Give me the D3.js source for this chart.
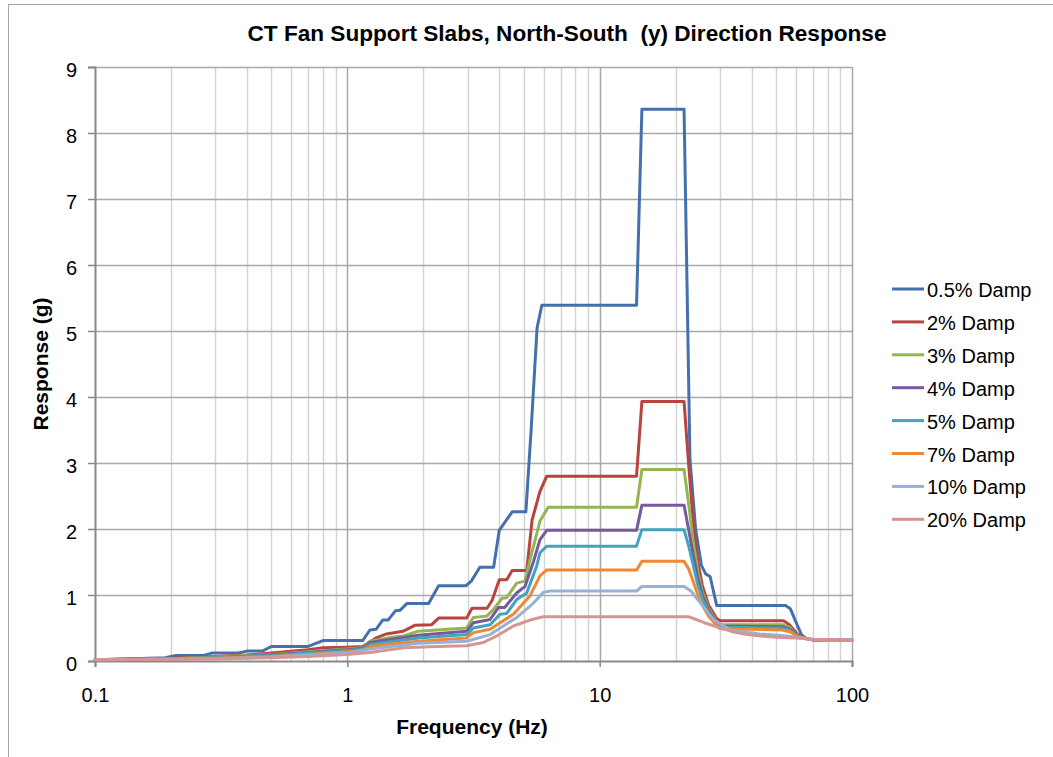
<!DOCTYPE html>
<html>
<head>
<meta charset="utf-8">
<script src="https://cdn.jsdelivr.net/npm/d3@7"></script>
<style>
  body { margin: 0; background: #fff; }
  svg text { font-family: "Liberation Sans", Arial, sans-serif; fill: #000; }
</style>
</head>
<body>
<div id="chart"></div>
<script>
// chart data
let seriesNames = ["0.5% Damp", "2% Damp", "3% Damp", "4% Damp", "5% Damp", "7% Damp", "10% Damp", "20% Damp"]
let seriesColors = ["#4471ad", "#b8433f", "#93b552", "#77599d", "#43a3bf", "#f08735", "#96b1d6", "#d69593"]

// [frequency Hz, response g]
let damp05 = [[0.1,0.02],[0.13,0.03],[0.19,0.05],[0.2,0.07],[0.21,0.085],[0.27,0.085],[0.29,0.12],[0.37,0.12],[0.4,0.15],[0.46,0.15],[0.5,0.22],[0.7,0.22],[0.8,0.31],[1.15,0.31],[1.23,0.47],[1.3,0.48],[1.38,0.62],[1.45,0.62],[1.55,0.76],[1.62,0.77],[1.72,0.87],[2.1,0.87],[2.3,1.14],[2.95,1.14],[3.1,1.21],[3.35,1.42],[3.8,1.42],[4.0,1.98],[4.5,2.26],[5.1,2.26],[5.35,3.5],[5.65,5.05],[5.9,5.39],[14.0,5.39],[14.7,8.36],[21.6,8.36],[22.8,3.05],[24.0,2.0],[25.3,1.45],[26.3,1.32],[27.4,1.28],[29.1,0.84],[54.5,0.84],[57,0.79],[59.5,0.62],[63,0.4],[66,0.34],[70,0.32],[100,0.32]]
let damp2 = [[0.1,0.02],[0.2,0.04],[0.3,0.07],[0.4,0.09],[0.5,0.12],[0.7,0.17],[0.8,0.2],[1.0,0.21],[1.15,0.22],[1.3,0.35],[1.43,0.41],[1.66,0.45],[1.85,0.54],[2.16,0.55],[2.3,0.65],[2.97,0.65],[3.12,0.8],[3.58,0.8],[3.75,0.92],[4.0,1.23],[4.28,1.23],[4.5,1.37],[5.14,1.37],[5.4,2.14],[5.8,2.57],[6.17,2.8],[14.0,2.8],[14.7,3.93],[21.6,3.93],[22.5,3.0],[23.5,2.1],[24.5,1.5],[25.5,1.15],[27,0.85],[29,0.65],[30,0.61],[53.5,0.61],[56.5,0.55],[61,0.4],[66,0.34],[70,0.32],[100,0.32]]
let damp3 = [[0.1,0.02],[0.2,0.035],[0.3,0.06],[0.5,0.1],[0.7,0.14],[1.0,0.18],[1.15,0.2],[1.23,0.3],[1.5,0.36],[1.67,0.38],[1.91,0.45],[2.97,0.5],[3.16,0.66],[3.57,0.68],[3.79,0.78],[4.1,0.95],[4.28,0.96],[4.69,1.18],[5.06,1.21],[5.3,1.54],[5.8,2.12],[6.25,2.33],[14.0,2.33],[14.7,2.9],[21.6,2.9],[22.5,2.4],[23.5,1.8],[24.5,1.35],[25.5,1.05],[27,0.8],[29,0.6],[30,0.55],[53,0.55],[57,0.5],[61,0.38],[66,0.34],[70,0.32],[100,0.32]]
let damp4 = [[0.1,0.02],[0.2,0.03],[0.3,0.05],[0.5,0.09],[0.7,0.13],[1.0,0.17],[1.15,0.19],[1.23,0.28],[1.91,0.39],[2.97,0.45],[3.16,0.58],[3.68,0.63],[3.97,0.81],[4.2,0.81],[4.69,1.03],[5.06,1.13],[5.46,1.5],[5.8,1.84],[6.17,1.98],[14.0,1.98],[14.7,2.36],[21.6,2.36],[22.5,2.0],[23.5,1.6],[24.5,1.25],[25.5,1.0],[27,0.77],[29,0.58],[30,0.53],[53,0.52],[57,0.48],[61,0.38],[66,0.34],[70,0.32],[100,0.32]]
let damp5 = [[0.1,0.02],[0.2,0.03],[0.3,0.05],[0.5,0.08],[0.7,0.12],[1.0,0.16],[1.15,0.18],[1.23,0.25],[1.91,0.35],[2.97,0.4],[3.16,0.5],[3.68,0.55],[4.03,0.71],[4.28,0.72],[4.69,0.93],[5.14,1.03],[5.63,1.44],[5.8,1.64],[6.17,1.74],[14.0,1.74],[14.7,1.99],[21.6,1.99],[22.5,1.75],[23.5,1.45],[24.5,1.15],[25.5,0.95],[27,0.73],[29,0.56],[30,0.51],[53,0.5],[57,0.46],[61,0.37],[66,0.34],[70,0.32],[100,0.32]]
let damp7 = [[0.1,0.02],[0.2,0.03],[0.3,0.04],[0.5,0.07],[0.7,0.1],[1.0,0.14],[1.15,0.16],[1.23,0.22],[1.91,0.3],[2.97,0.35],[3.16,0.43],[3.68,0.48],[4.15,0.61],[4.55,0.71],[5.3,0.99],[5.8,1.29],[6.17,1.38],[14.0,1.38],[14.7,1.51],[21.6,1.51],[22.5,1.4],[23.5,1.2],[24.5,1.0],[25.5,0.85],[27,0.68],[29,0.54],[30,0.49],[53,0.47],[57,0.44],[61,0.37],[66,0.34],[70,0.32],[100,0.32]]
let damp10 = [[0.1,0.02],[0.2,0.025],[0.3,0.035],[0.5,0.06],[0.7,0.09],[1.0,0.12],[1.23,0.18],[1.91,0.27],[2.97,0.3],[3.68,0.4],[4.15,0.53],[4.69,0.66],[5.3,0.83],[5.63,0.93],[5.98,1.04],[6.36,1.06],[14.0,1.06],[14.7,1.13],[21.6,1.13],[23,1.06],[25.2,0.87],[28.4,0.62],[33,0.47],[43,0.41],[55,0.38],[65,0.34],[75,0.32],[100,0.32]]
let damp20 = [[0.1,0.02],[0.2,0.025],[0.3,0.03],[0.5,0.05],[0.7,0.07],[1.0,0.1],[1.23,0.13],[1.67,0.2],[2.26,0.22],[2.97,0.23],[3.46,0.28],[3.91,0.38],[4.55,0.53],[5.3,0.62],[5.98,0.67],[22.6,0.67],[23.7,0.64],[26,0.58],[30.2,0.5],[34,0.44],[38.4,0.4],[50,0.36],[60,0.35],[70,0.33],[100,0.32]]

let allSeries = [damp05, damp2, damp3, damp4, damp5, damp7, damp10, damp20]

let yTicks = [0, 1, 2, 3, 4, 5, 6, 7, 8, 9]
let xTicks = [0.1, 1, 10, 100]

// Step 1: set up the svg
let svgWidth = 1053
let svgHeight = 757
let margin = { top: 67, right: 201, bottom: 96, left: 95 }
let width = svgWidth - margin.left - margin.right
let height = svgHeight - margin.top - margin.bottom

let svg = d3.select("#chart")
    .append("svg")
    .attr("width", svgWidth)
    .attr("height", svgHeight)

// chart border (only left and top edges show in the frame)
svg.append("rect")
    .attr("x", 8.5)
    .attr("y", 4.5)
    .attr("width", 1200)
    .attr("height", 900)
    .attr("fill", "none")
    .attr("stroke", "#a6a6a6")
    .attr("stroke-width", 1)

let chartGroup = svg.append("g")
    .attr("transform", `translate(${margin.left}, ${margin.top})`)

// Step 2: scales
let xLogScale = d3.scaleLog()
    .domain([0.1, 100])
    .range([0, width])

let yLinearScale = d3.scaleLinear()
    .domain([0, 9])
    .range([height, 0])

// Step 3: grid lines
let minorTicks = xLogScale.ticks().filter(d => xTicks.indexOf(d) < 0)

chartGroup.append("g")
    .selectAll("line")
    .data(minorTicks)
    .enter()
    .append("line")
    .attr("x1", d => Math.round(xLogScale(d)) + 0.5)
    .attr("x2", d => Math.round(xLogScale(d)) + 0.5)
    .attr("y1", 0)
    .attr("y2", height)
    .attr("stroke", "#d4d4d4")
    .attr("stroke-width", 1.5)

chartGroup.append("g")
    .selectAll("line")
    .data(xTicks.slice(1))
    .enter()
    .append("line")
    .attr("x1", d => Math.round(xLogScale(d)) + 0.5)
    .attr("x2", d => Math.round(xLogScale(d)) + 0.5)
    .attr("y1", 0)
    .attr("y2", height)
    .attr("stroke", "#a8a8a8")
    .attr("stroke-width", 1.5)

chartGroup.append("g")
    .selectAll("line")
    .data(yTicks.slice(1))
    .enter()
    .append("line")
    .attr("x1", 0)
    .attr("x2", width)
    .attr("y1", d => Math.round(yLinearScale(d)) + 0.5)
    .attr("y2", d => Math.round(yLinearScale(d)) + 0.5)
    .attr("stroke", "#a8a8a8")
    .attr("stroke-width", 1.5)

// Step 4: axes
let leftAxis = d3.axisLeft(yLinearScale)
    .tickValues(yTicks)
    .tickSize(7)
    .tickPadding(11)
    .tickFormat(d3.format("d"))

let bottomAxis = d3.axisBottom(xLogScale)
    .tickValues(xTicks)
    .tickSize(6)
    .tickPadding(21)
    .tickFormat(d => d3.format("~g")(d))

let yAxisG = chartGroup.append("g")
    .call(leftAxis)

let xAxisG = chartGroup.append("g")
    .attr("transform", `translate(0, ${height})`)
    .call(bottomAxis)

;[yAxisG, xAxisG].forEach(g => {
    g.select(".domain").attr("stroke", "#888").attr("stroke-width", 2)
    g.selectAll(".tick line").attr("stroke", "#888").attr("stroke-width", 1.5)
    g.selectAll("text")
        .style("font-family", "'Liberation Sans', Arial, sans-serif")
        .style("font-size", "20px")
        .attr("fill", "#000")
})
yAxisG.selectAll("text").attr("dy", "0.45em")

// Step 5: the lines
let line = d3.line()
    .x(d => xLogScale(d[0]))
    .y(d => yLinearScale(d[1]))

chartGroup.append("g")
    .selectAll("path")
    .data(allSeries)
    .enter()
    .append("path")
    .attr("d", d => line(d))
    .attr("fill", "none")
    .attr("stroke", (d, i) => seriesColors[i])
    .attr("stroke-width", 3)
    .attr("stroke-linejoin", "round")
    .attr("stroke-linecap", "round")

// Step 6: titles
svg.append("text")
    .attr("x", 567)
    .attr("y", 41)
    .attr("text-anchor", "middle")
    .style("font-size", "22.6px")
    .style("font-weight", "bold")
    .style("white-space", "pre")
    .text("CT Fan Support Slabs, North-South  (y) Direction Response")

svg.append("text")
    .attr("x", 472)
    .attr("y", 734)
    .attr("text-anchor", "middle")
    .style("font-size", "21px")
    .style("font-weight", "bold")
    .text("Frequency (Hz)")

svg.append("text")
    .attr("transform", "translate(48, 364) rotate(-90)")
    .attr("text-anchor", "middle")
    .style("font-size", "21px")
    .style("font-weight", "bold")
    .text("Response (g)")

// Step 7: legend
let legend = svg.append("g")
    .attr("transform", "translate(892, 289)")

let legendRows = legend.selectAll("g")
    .data(seriesNames)
    .enter()
    .append("g")
    .attr("transform", (d, i) => `translate(0, ${i * 32.9})`)

legendRows.append("line")
    .attr("x1", 0)
    .attr("x2", 32)
    .attr("y1", 0)
    .attr("y2", 0)
    .attr("stroke", (d, i) => seriesColors[i])
    .attr("stroke-width", 3)

legendRows.append("text")
    .attr("x", 35)
    .attr("y", 8)
    .style("font-size", "20px")
    .text(d => d)
</script>
</body>
</html>
